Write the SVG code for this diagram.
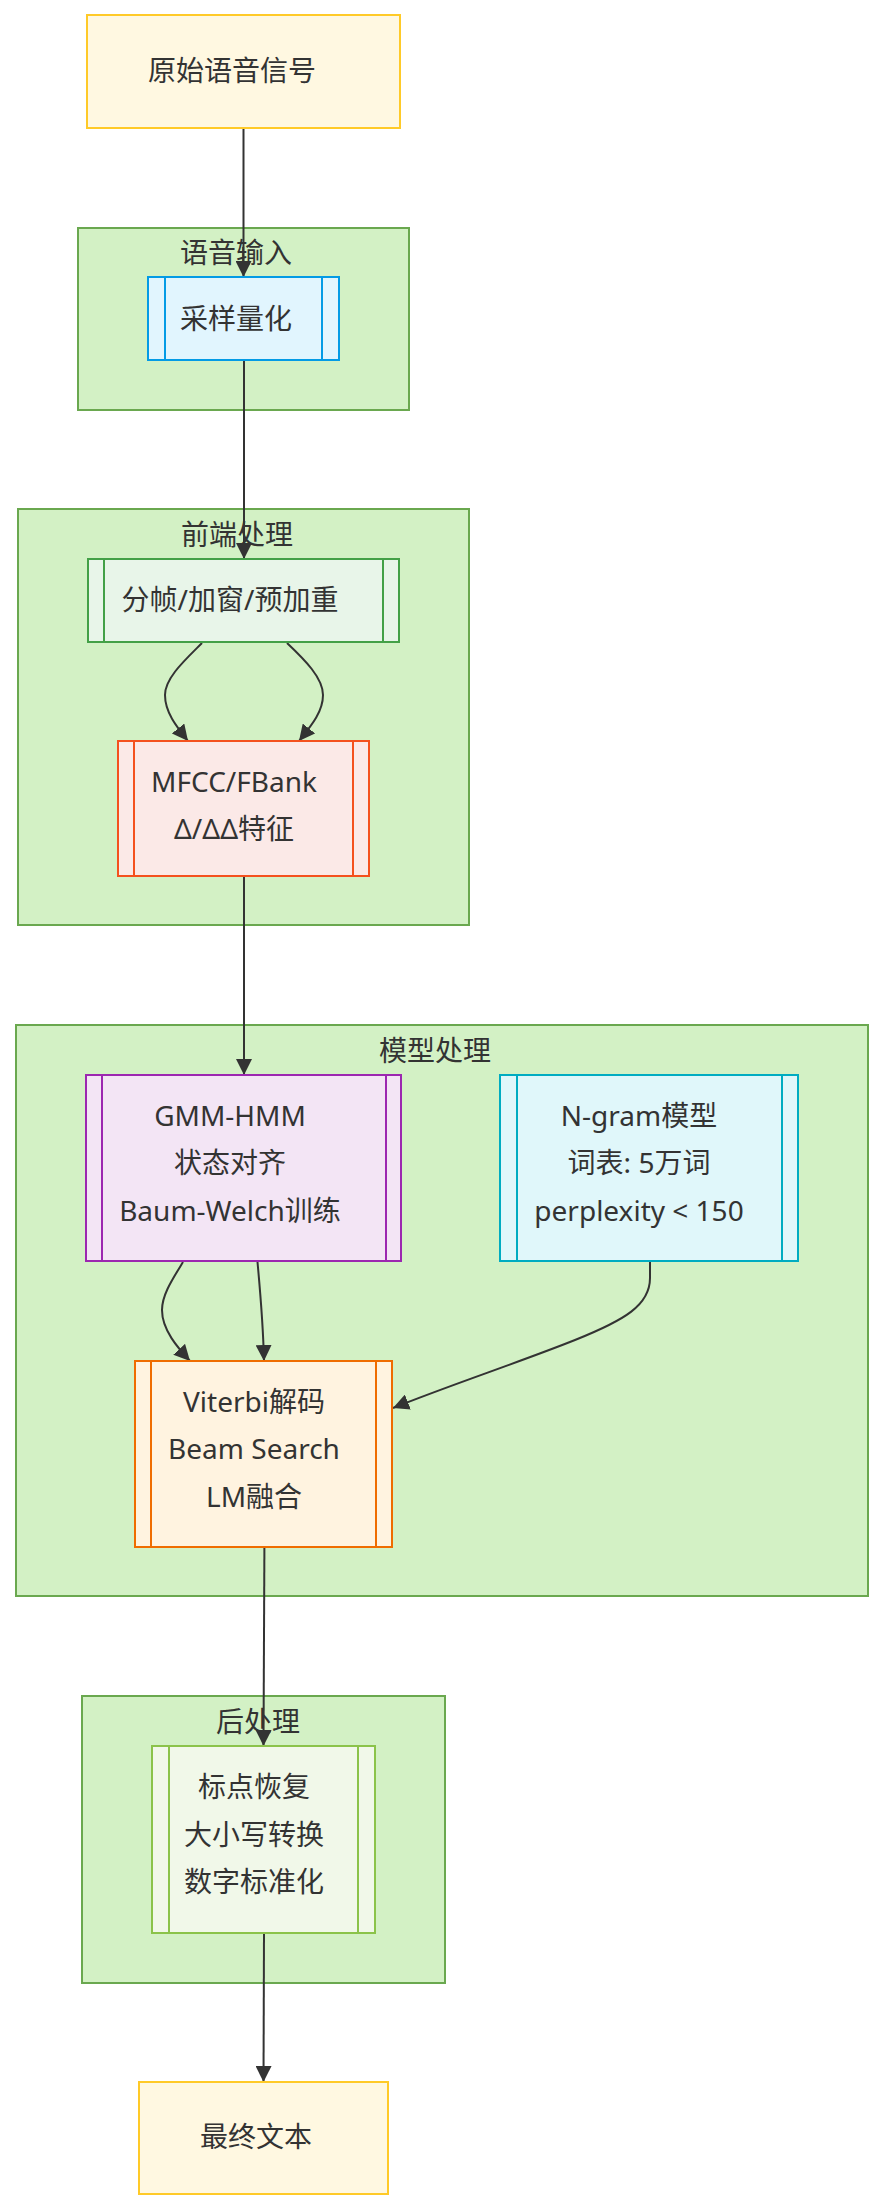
<svg xmlns="http://www.w3.org/2000/svg" width="884" height="2212" viewBox="0 0 884 2212">
<style>
text{font-family:"Noto Sans","Noto Sans CJK SC",sans-serif;font-size:28px;fill:#333;text-anchor:middle}
.cluster{fill:#d3f1c5;stroke:#6aa84f;stroke-width:2}
.edge{fill:none;stroke:#333;stroke-width:2;marker-end:url(#arrow)}
.io{fill:#fff8e1;stroke:#ffca28;stroke-width:2}
</style>
<defs>
<marker id="arrow" markerUnits="userSpaceOnUse" markerWidth="16" markerHeight="16" refX="14" refY="7" orient="auto" viewBox="0 0 14 14">
<path d="M0,0 L14,7 L0,14 z" fill="#333"/>
</marker>
</defs>
<rect width="884" height="2212" fill="#fff"/>

<g id="sg-input">
<rect class="cluster" x="78" y="228" width="331" height="182"/>
<text x="236" y="263">语音输入</text>
</g>
<g id="sg-frontend">
<rect class="cluster" x="18" y="509" width="451" height="416"/>
<text x="237" y="545">前端处理</text>
</g>
<g id="sg-model">
<rect class="cluster" x="16" y="1025" width="852" height="571"/>
<text x="435" y="1061">模型处理</text>
</g>
<g id="sg-post">
<rect class="cluster" x="82" y="1696" width="363" height="287"/>
<text x="258" y="1732">后处理</text>
</g>

<g id="connectors">
<path class="edge" d="M243.5,128 L243.5,277"/>
<path class="edge" d="M244,360 L244,559"/>
<path class="edge" d="M202,643 C185,660 165,678 165,695 C165,712 176,726 188,741"/>
<path class="edge" d="M287,643 C305,660 323,678 323,695 C323,712 311,726 299,741"/>
<path class="edge" d="M244,876 L244,1075"/>
<path class="edge" d="M183,1262 C172,1280 162,1295 162,1310 C162,1330 178,1348 190,1361"/>
<path class="edge" d="M257.5,1262 C260,1290 263,1320 264,1361"/>
<path class="edge" d="M650,1262 L650,1278 C650,1305 625,1320 575,1340 C520,1362 450,1385 393,1408"/>
<path class="edge" d="M264.4,1547 L263.5,1746"/>
<path class="edge" d="M264,1933 L263.5,2082"/>
</g>

<g id="raw-signal">
<rect class="io" x="87" y="15" width="313" height="113"/>
<text x="232" y="81">原始语音信号</text>
</g>
<g id="sampling">
<rect x="148" y="277" width="191" height="83" fill="#e1f5fe" stroke="#039be5" stroke-width="2"/>
<path d="M165,277 V360 M322,277 V360" stroke="#039be5" stroke-width="2"/>
<text x="236" y="329">采样量化</text>
</g>
<g id="framing">
<rect x="88" y="559" width="311" height="83" fill="#e8f5e9" stroke="#43a047" stroke-width="2"/>
<path d="M104,559 V642 M383,559 V642" stroke="#43a047" stroke-width="2"/>
<text x="230" y="610">分帧/加窗/预加重</text>
</g>
<g id="features">
<rect x="118" y="741" width="251" height="135" fill="#fbe9e7" stroke="#f4511e" stroke-width="2"/>
<path d="M134,741 V876 M353,741 V876" stroke="#f4511e" stroke-width="2"/>
<text x="234" y="792">MFCC/FBank</text>
<text x="234" y="839">Δ/ΔΔ特征</text>
</g>
<g id="gmm-hmm">
<rect x="86" y="1075" width="315" height="186" fill="#f3e5f5" stroke="#9c27b0" stroke-width="2"/>
<path d="M102,1075 V1261 M386,1075 V1261" stroke="#9c27b0" stroke-width="2"/>
<text x="230" y="1126">GMM-HMM</text>
<text x="230" y="1173">状态对齐</text>
<text x="230" y="1221">Baum-Welch训练</text>
</g>
<g id="ngram">
<rect x="500" y="1075" width="298" height="186" fill="#e0f7fa" stroke="#00acc1" stroke-width="2"/>
<path d="M517,1075 V1261 M782,1075 V1261" stroke="#00acc1" stroke-width="2"/>
<text x="639" y="1126">N-gram模型</text>
<text x="639" y="1173">词表: 5万词</text>
<text x="639" y="1221">perplexity &lt; 150</text>
</g>
<g id="viterbi">
<rect x="135" y="1361" width="257" height="186" fill="#fff3e0" stroke="#ef6c00" stroke-width="2"/>
<path d="M151,1361 V1547 M376,1361 V1547" stroke="#ef6c00" stroke-width="2"/>
<text x="254" y="1412">Viterbi解码</text>
<text x="254" y="1459">Beam Search</text>
<text x="254" y="1507">LM融合</text>
</g>
<g id="postproc">
<rect x="152" y="1746" width="223" height="187" fill="#f1f8e9" stroke="#8bc34a" stroke-width="2"/>
<path d="M169,1746 V1933 M358,1746 V1933" stroke="#8bc34a" stroke-width="2"/>
<text x="254" y="1797">标点恢复</text>
<text x="254" y="1845">大小写转换</text>
<text x="254" y="1892">数字标准化</text>
</g>
<g id="final-text">
<rect class="io" x="139" y="2082" width="249" height="112"/>
<text x="256" y="2147">最终文本</text>
</g>
</svg>
